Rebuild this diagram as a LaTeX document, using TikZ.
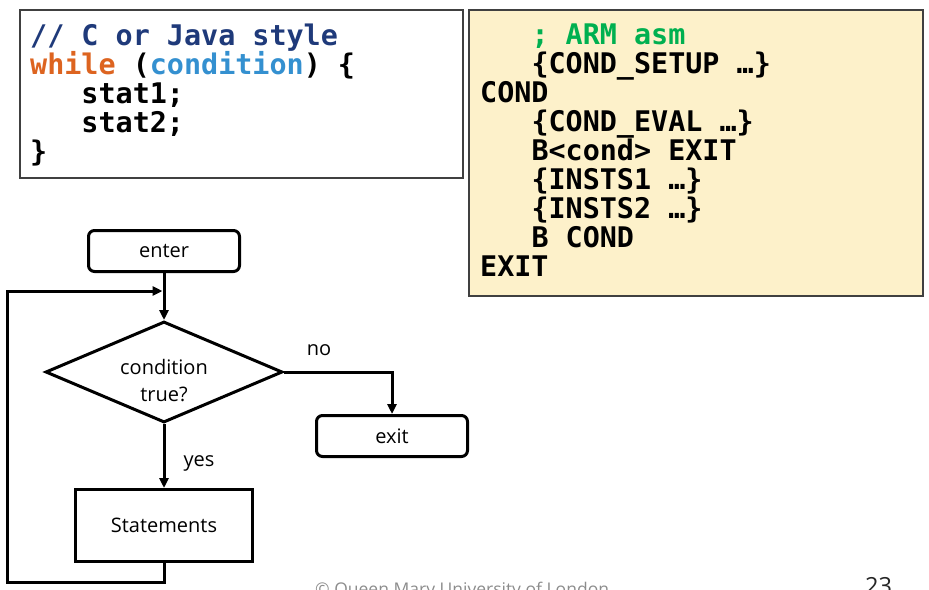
\documentclass[tikz,border=0pt]{standalone}
\usepackage{fontspec}
\setmainfont{Open Sans}
\newfontfamily\codefont{DejaVu Sans Mono}
\usetikzlibrary{shapes.geometric,arrows.meta}
\definecolor{navyc}{HTML}{1F3A7A}
\definecolor{orangec}{HTML}{DD6420}
\definecolor{bluec}{HTML}{3490D0}
\definecolor{greenc}{HTML}{00B050}
\definecolor{asmfill}{HTML}{FDF1CA}
\definecolor{boxline}{HTML}{404040}
\definecolor{footgray}{HTML}{8C8C8C}
\tikzset{
  codeline/.style={anchor=base west,inner sep=0pt,font=\codefont\bfseries\fontsize{28.4}{29}\selectfont},
  codebox/.style={draw=boxline,line width=1.3pt},
  flowtxt/.style={font=\fontsize{20}{27}\selectfont,inner sep=0pt},
  rbox/.style={draw,line width=3pt,rounded corners=6pt,minimum width=151pt,minimum height=41pt,inner sep=0pt,font=\fontsize{20}{27}\selectfont},
  sbox/.style={draw,line width=3pt,minimum width=177pt,minimum height=72pt,inner sep=0pt,font=\fontsize{20}{27}\selectfont},
  flow/.style={line width=3pt},
  arr/.style={flow,-{Triangle[length=10pt,width=9pt]}}
}
\newcommand{\ind}{\phantom{AAA}}
\begin{document}
\begin{tikzpicture}[x=1pt,y=-1pt]
\useasboundingbox (0,0) rectangle (929,589);
\clip (0,0) rectangle (929,589);
% code boxes
\draw[codebox,fill=white] (20,10) rectangle (463,178);
\draw[codebox,fill=asmfill] (469,10) rectangle (923,296);
% left code
\node[codeline,text=navyc] (c1) at (30,45) {// C or Java style};
\node[codeline] (c2) at (30,74) {\textcolor{orangec}{while} (\textcolor{bluec}{condition}) \{};
\node[codeline] (c3) at (30,103) {\ind stat1;};
\node[codeline] (c4) at (30,132) {\ind stat2;};
\node[codeline] (c5) at (30,161) {\}};
% right code
\node[codeline,text=greenc] (a1) at (480,44) {\ind; ARM asm};
\node[codeline] (a2) at (480,73) {\ind\{COND\_SETUP …\}};
\node[codeline] (a3) at (480,102) {COND};
\node[codeline] (a4) at (480,131) {\ind\{COND\_EVAL …\}};
\node[codeline] (a5) at (480,160) {\ind B<cond> EXIT};
\node[codeline] (a6) at (480,189) {\ind\{INSTS1 …\}};
\node[codeline] (a7) at (480,218) {\ind\{INSTS2 …\}};
\node[codeline] (a8) at (480,247) {\ind B COND};
\node[codeline] (a9) at (480,276) {EXIT};
% flowchart
\node[rbox] (enter) at (164,251) {enter};
\node[draw,diamond,line width=3pt,minimum width=237pt,minimum height=101pt,inner sep=0pt] (cond) at (164,372) {};
\node[flowtxt,anchor=base] (condt1) at (164,374) {condition};
\node[flowtxt,anchor=base] (condt2) at (164,401) {true?};
\node[rbox] (exit) at (392,436) {exit};
\node[sbox] (stat) at (164,525.5) {Statements};
\node[flowtxt,anchor=base] (no) at (319,355) {no};
\node[flowtxt,anchor=base] (yes) at (199,466) {yes};
\coordinate (loopend) at (162.5,291);
\draw[arr] (enter.south) -- (cond.north);
\draw[arr] (cond.south) -- (stat.north);
\draw[arr] (cond.east) -| (exit.north);
\draw[arr] (stat.south) -- (164,582) -- (7,582) -- (7,291) -- (loopend);
% footer
\node[anchor=base west,inner sep=0pt,text=footgray,font=\fontsize{17.5}{20}\selectfont] (foot) at (315,595) {© Queen Mary University of London};
\node[anchor=base west,inner sep=0pt,text=black!85,font=\fontsize{23.6}{26}\selectfont] (page) at (865,594) {23};
\end{tikzpicture}
\end{document}
